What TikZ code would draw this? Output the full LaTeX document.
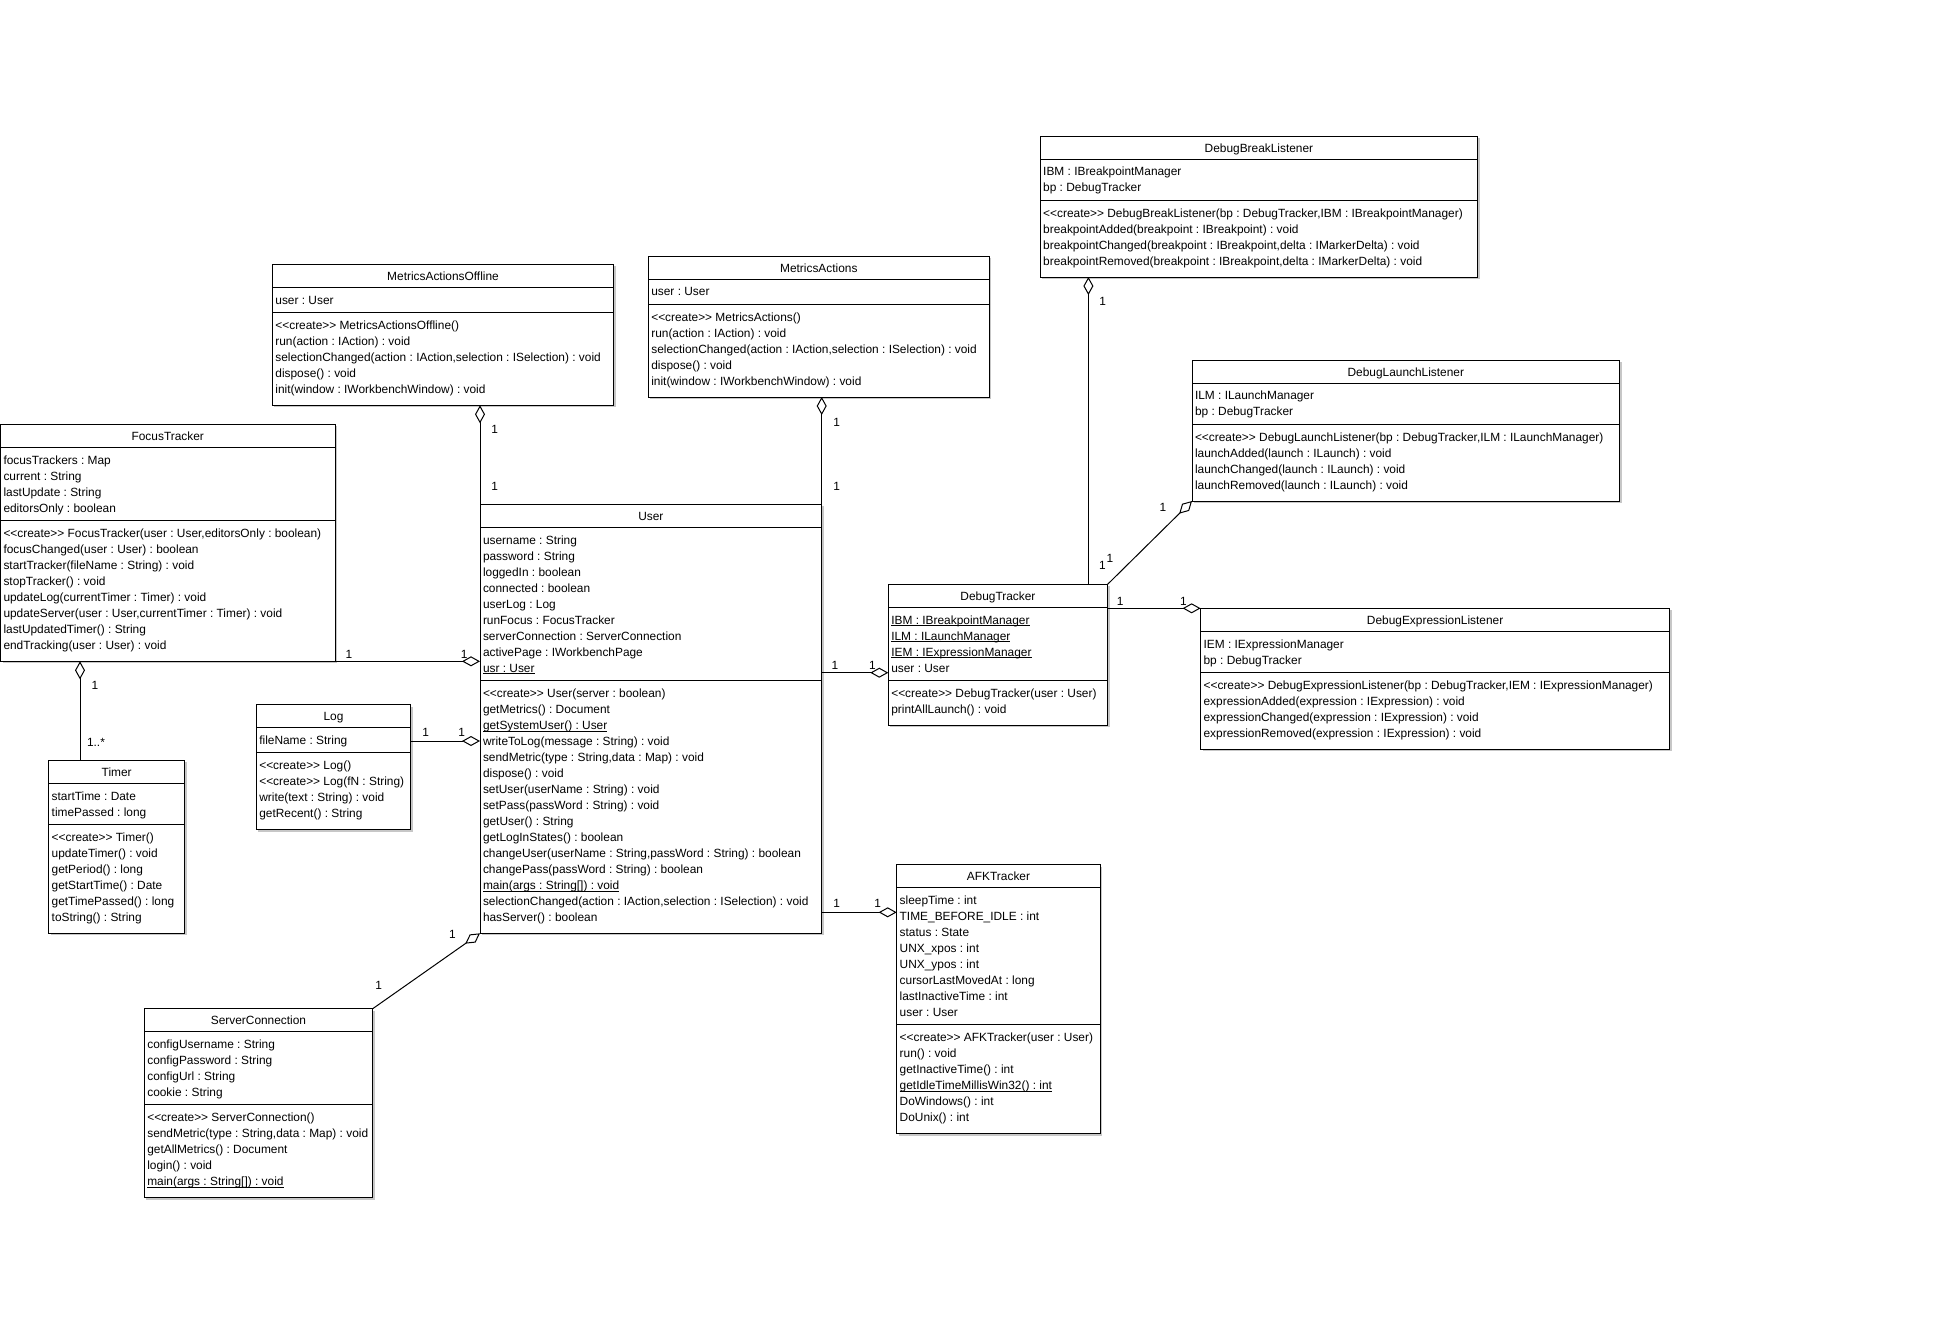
\documentclass[tikz,border=0pt]{standalone}
\usepackage{fontspec}
\setmainfont{Liberation Sans}
\usetikzlibrary{arrows.meta,calc}
\frenchspacing
\newcommand\ccr{<\kern0pt<create>\kern0pt>}
\newcommand\undl[1]{\setbox0\hbox{#1}\rlap{\rule[-2.2pt]{\wd0}{1pt}}\box0}
\tikzset{
 umlbox/.style={draw=black, line width=1pt, fill=white, inner sep=0pt, outer sep=0pt, rectangle},
 umlshadow/.style={fill=black!22},
 rowtxt/.style={anchor=base west, inner sep=0pt, outer sep=0pt, font=\fontsize{11.9}{16}\selectfont\frenchspacing},
 ttltxt/.style={anchor=base, inner sep=0pt, outer sep=0pt, font=\fontsize{11.9}{16}\selectfont\frenchspacing},
 multlbl/.style={anchor=base, inner sep=0pt, outer sep=0pt, font=\fontsize{11.9}{16}\selectfont},
 agg/.style={draw=black, line width=1pt, -{Diamond[length=18pt,width=10pt,fill=white]}},
 sepline/.style={draw=black, line width=1pt},
}
% #1 name #2 x #3 top #4 width #5 nA #6 nM #7 title #8 attrs #9 methods
\newcommand\umlclass[9]{%
 \pgfmathsetmacro\ucSepA{#3+23}%
 \pgfmathsetmacro\ucSepB{#3+32+16*#5}%
 \pgfmathsetmacro\ucH{45+16*#5+16*#6}%
 \fill[umlshadow] (#2+2,#3+2) rectangle ++(#4,\ucH);
 \node[umlbox, minimum width=#4pt, minimum height=\ucH pt, anchor=north west] (#1) at (#2,#3) {};
 \draw[sepline] (#2,\ucSepA) -- ++(#4,0);
 \draw[sepline] (#2,\ucSepB) -- ++(#4,0);
 \node[ttltxt] (#1-t) at (#2+#4/2,#3+16) {#7};
 \foreach \r [count=\i] in {#8} {\node[rowtxt] (#1-a\i) at (#2+3,\ucSepA+16.9+16*\i-16) {\r};}
 \foreach \r [count=\i] in {#9} {\node[rowtxt] (#1-m\i) at (#2+3,\ucSepB+17.2+16*\i-16) {\r};}
}
\begin{document}
\begin{tikzpicture}[x=1pt,y=-1pt]
\useasboundingbox[fill=white] (0,0) rectangle (1942,1333);

\umlclass{MAO}{272.4}{264.3}{341.2}{1}{5}{MetricsActionsOffline}
 {{user : User}}
 {{\ccr{} MetricsActionsOffline()},{run(action : IAction) : void},{selectionChanged(action : IAction,selection : ISelection) : void},{dispose() : void},{init(window : IWorkbenchWindow) : void}}

\umlclass{MA}{648.3}{256}{341}{1}{5}{MetricsActions}
 {{user : User}}
 {{\ccr{} MetricsActions()},{run(action : IAction) : void},{selectionChanged(action : IAction,selection : ISelection) : void},{dispose() : void},{init(window : IWorkbenchWindow) : void}}

\umlclass{FT}{0.5}{424.3}{334.5}{4}{8}{FocusTracker}
 {{focusTrackers : Map},{current : String},{lastUpdate : String},{editorsOnly : boolean}}
 {{\ccr{} FocusTracker(user : User,editorsOnly : boolean)},{focusChanged(user : User) : boolean},{startTracker(fileName : String) : void},{stopTracker() : void},{updateLog(currentTimer : Timer) : void},{updateServer(user : User,currentTimer : Timer) : void},{lastUpdatedTimer() : String},{endTracking(user : User) : void}}

\umlclass{User}{480}{504.3}{341.7}{9}{15}{User}
 {{username : String},{password : String},{loggedIn : boolean},{connected : boolean},{userLog : Log},{runFocus : FocusTracker},{serverConnection : ServerConnection},{activePage : IWorkbenchPage},{\undl{usr : User}}}
 {{\ccr{} User(server : boolean)},{getMetrics() : Document},{\undl{getSystemUser() : User}},{writeToLog(message : String) : void},{sendMetric(type : String,data : Map) : void},{dispose() : void},{setUser(userName : String) : void},{setPass(passWord : String) : void},{getUser() : String},{getLogInStates() : boolean},{changeUser(userName : String,passWord : String) : boolean},{changePass(passWord : String) : boolean},{\undl{main(args : String[]) : void}},{selectionChanged(action : IAction,selection : ISelection) : void},{hasServer() : boolean}}

\umlclass{Log}{256.3}{704.7}{154.4}{1}{4}{Log}
 {{fileName : String}}
 {{\ccr{} Log()},{\ccr{} Log(fN : String)},{write(text : String) : void},{getRecent() : String}}

\umlclass{Timer}{48.7}{760.3}{136}{2}{6}{Timer}
 {{startTime : Date},{timePassed : long}}
 {{\ccr{} Timer()},{updateTimer() : void},{getPeriod() : long},{getStartTime() : Date},{getTimePassed() : long},{toString() : String}}

\umlclass{SC}{144.3}{1008.7}{228.4}{4}{5}{ServerConnection}
 {{configUsername : String},{configPassword : String},{configUrl : String},{cookie : String}}
 {{\ccr{} ServerConnection()},{sendMetric(type : String,data : Map) : void},{getAllMetrics() : Document},{login() : void},{\undl{main(args : String[]) : void}}}

\umlclass{DT}{888.3}{584.3}{219.3}{4}{2}{DebugTracker}
 {{\undl{IBM : IBreakpointManager}},{\undl{ILM : ILaunchManager}},{\undl{IEM : IExpressionManager}},{user : User}}
 {{\ccr{} DebugTracker(user : User)},{printAllLaunch() : void}}

\umlclass{DEL}{1200.6}{608.3}{469}{2}{4}{DebugExpressionListener}
 {{IEM : IExpressionManager},{bp : DebugTracker}}
 {{\ccr{} DebugExpressionListener(bp : DebugTracker,IEM : IExpressionManager)},{expressionAdded(expression : IExpression) : void},{expressionChanged(expression : IExpression) : void},{expressionRemoved(expression : IExpression) : void}}

\umlclass{AFK}{896.7}{864.7}{203.6}{8}{6}{AFKTracker}
 {{sleepTime : int},{TIME\_BEFORE\_IDLE : int},{status : State},{UNX\_xpos : int},{UNX\_ypos : int},{cursorLastMovedAt : long},{lastInactiveTime : int},{user : User}}
 {{\ccr{} AFKTracker(user : User)},{run() : void},{getInactiveTime() : int},{\undl{getIdleTimeMillisWin32() : int}},{DoWindows() : int},{DoUnix() : int}}

\umlclass{DBL}{1040.2}{136}{437.5}{2}{4}{DebugBreakListener}
 {{IBM : IBreakpointManager},{bp : DebugTracker}}
 {{\ccr{} DebugBreakListener(bp : DebugTracker,IBM : IBreakpointManager)},{breakpointAdded(breakpoint : IBreakpoint) : void},{breakpointChanged(breakpoint : IBreakpoint,delta : IMarkerDelta) : void},{breakpointRemoved(breakpoint : IBreakpoint,delta : IMarkerDelta) : void}}

\umlclass{DLL}{1192}{360}{427.6}{2}{4}{DebugLaunchListener}
 {{ILM : ILaunchManager},{bp : DebugTracker}}
 {{\ccr{} DebugLaunchListener(bp : DebugTracker,ILM : ILaunchManager)},{launchAdded(launch : ILaunch) : void},{launchChanged(launch : ILaunch) : void},{launchRemoved(launch : ILaunch) : void}}

% connectors
\coordinate (tmr) at ($(Timer.north west)+(31.3,0)$);
\coordinate (logp) at ($(Log.north east)+(0,36.3)$);
\coordinate (udt) at ($(User.north east)+(0,168.4)$);
\coordinate (uafk) at ($(User.north east)+(0,408)$);
\coordinate (dtb) at ($(DT.north west)+(200.1,0)$);

\draw[agg] (User.north west) -- (User.north west |- MAO.south);
\draw[agg] (User.north east) -- (User.north east |- MA.south);
\draw[agg] (FT.south east) -- (FT.south east -| User.west);
\draw[agg] (tmr) -- (tmr |- FT.south);
\draw[agg] (logp) -- (logp -| User.west);
\draw[agg] (SC.north east) -- (User.south west);
\draw[agg] (udt) -- (udt -| DT.west);
\draw[agg] (uafk) -- (uafk -| AFK.west);
\draw[agg] (dtb) -- (dtb |- DBL.south);
\draw[agg] (DT.north east) -- (DLL.south west);
\draw[agg] (DT.east |- DEL.north) -- (DEL.north west);

% multiplicities
\node[multlbl] (la1) at (494.6,433.5) {1};
\node[multlbl] (la2) at (494.6,490.2) {1};
\node[multlbl] (lb1) at (836.7,426.2) {1};
\node[multlbl] (lb2) at (836.7,490.5) {1};
\node[multlbl] (lc1) at (349,658.5) {1};
\node[multlbl] (lc2) at (464.3,658.5) {1};
\node[multlbl] (ld1) at (95,689.5) {1};
\node[multlbl] (ld2) at (96,746.2) {1..*};
\node[multlbl] (le1) at (425.7,736.2) {1};
\node[multlbl] (le2) at (461.7,736.2) {1};
\node[multlbl] (lf1) at (452.5,938) {1};
\node[multlbl] (lf2) at (378.7,989.5) {1};
\node[multlbl] (lg1) at (835,669.2) {1};
\node[multlbl] (lg2) at (872.3,669.2) {1};
\node[multlbl] (lh1) at (836.7,907.2) {1};
\node[multlbl] (lh2) at (877.7,907.2) {1};
\node[multlbl] (li1) at (1102.7,305.5) {1};
\node[multlbl] (li2) at (1102.4,569.8) {1};
\node[multlbl] (lj1) at (1163,511.2) {1};
\node[multlbl] (lj2) at (1109.9,562.8) {1};
\node[multlbl] (lk1) at (1120.2,605.5) {1};
\node[multlbl] (lk2) at (1183.4,605.5) {1};
\end{tikzpicture}
\end{document}
